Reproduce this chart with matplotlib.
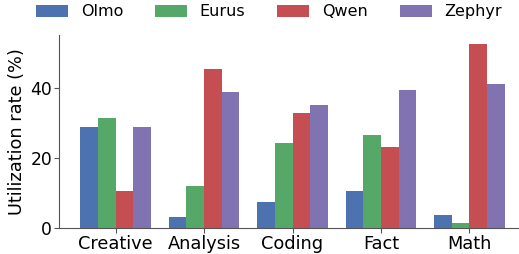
import numpy as np
import matplotlib
matplotlib.use("Agg")
import matplotlib.pyplot as plt

categories = ["Creative", "Analysis", "Coding", "Fact", "Math"]
models = ["Olmo", "Eurus", "Qwen", "Zephyr"]
olmo = [28.9, 3.2, 7.4, 10.6, 3.7]
eurus = [31.5, 12.0, 24.4, 26.6, 1.4]
qwen = [10.6, 45.6, 33.0, 23.2, 52.7]
zephyr = [28.9, 39.0, 35.3, 39.5, 41.3]
colors = ["#4C72B0", "#55A868", "#C44E52", "#8172B2"]

plt.rcParams["font.family"] = ["DejaVu Sans"]

fig = plt.figure(figsize=(5.19, 2.54), dpi=100)
ax = fig.add_axes([0.1137, 0.1024, 0.90, 0.760])

x = np.arange(len(categories))
width = 0.2
for i, (name, vals) in enumerate(zip(models, [olmo, eurus, qwen, zephyr])):
    ax.bar(x + (i - 1.5) * width, vals, width, color=colors[i], label=name)

ax.set_xticks(x)
ax.set_xticklabels(categories, fontsize=12.8)
ax.set_yticks([0, 20, 40])
ax.tick_params(axis="y", labelsize=12.3)
ax.set_ylabel("Utilization rate (%)", fontsize=12.8, labelpad=3)

for side in ["top", "right"]:
    ax.spines[side].set_visible(False)
for side in ["left", "bottom"]:
    ax.spines[side].set_color("#555555")
ax.tick_params(colors="#555555", labelcolor="black", length=3.5, pad=1.5)

# legend sits a bit right of centre, like the source figure
fig.legend(loc="center", bbox_to_anchor=(269 / 519, 0.953), ncol=4, frameon=False,
           fontsize=11.5, handlelength=2.0, handleheight=0.8, handletextpad=0.8,
           columnspacing=2.0)

fig.savefig("out.png", dpi=100)
